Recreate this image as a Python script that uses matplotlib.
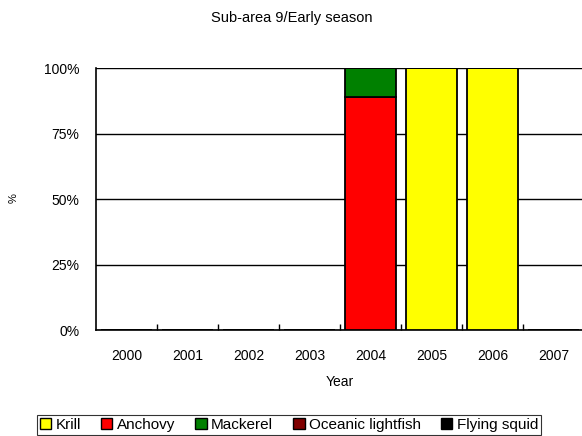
import numpy as np
import matplotlib
matplotlib.use('Agg')
import matplotlib.pyplot as plt
from matplotlib.ticker import FuncFormatter
from matplotlib.patches import Patch

plt.rcParams['font.family'] = ['Liberation Sans', 'DejaVu Sans']

years = ['2000', '2001', '2002', '2003', '2004', '2005', '2006', '2007']
species = ['Krill', 'Anchovy', 'Mackerel', 'Oceanic lightfish', 'Flying squid']
krill = [0, 0, 0, 0, 0, 100, 100, 0]
anchovy = [0, 0, 0, 0, 89, 0, 0, 0]
mackerel = [0, 0, 0, 0, 11, 0, 0, 0]
lightfish = [0, 0, 0, 0, 0, 0, 0, 0]
squid = [0, 0, 0, 0, 0, 0, 0, 0]
colors = ['#ffff00', '#ff0000', '#008000', '#800000', '#000000']

fig = plt.figure(figsize=(5.82, 4.36), dpi=100)
ax = fig.add_axes([96/582, 106/436, 488/582, 262/436])

x = np.arange(len(years))
bottom = np.zeros(len(years))
for vals, col in zip([krill, anchovy, mackerel, lightfish, squid], colors):
    v = np.array(vals, dtype=float)
    ax.bar(x, v, 0.85, bottom=bottom, color=col, edgecolor='black',
           linewidth=1.3, zorder=3)
    bottom += v

ax.set_xlim(-0.5, len(years) - 0.5)
ax.set_ylim(0, 100)
ax.set_yticks([0, 25, 50, 75, 100])
ax.yaxis.set_major_formatter(FuncFormatter(lambda v, p: '%d%%' % v))
ax.tick_params(axis='y', length=0, labelsize=10, pad=12)
ax.set_xticks(x)
ax.set_xticklabels(years)
ax.set_xticks(np.arange(len(years) - 1) + 0.5, minor=True)
ax.tick_params(axis='x', which='major', length=0, labelsize=10, pad=14)
ax.tick_params(axis='x', which='minor', length=4, direction='in', width=1)
ax.grid(axis='y', color='black', linewidth=1, zorder=0)
for s in ['top', 'right']:
    ax.spines[s].set_visible(False)
ax.spines['left'].set_linewidth(1.2)
ax.spines['bottom'].set_linewidth(1.2)

ax.set_xlabel('Year', fontsize=10, labelpad=8)
fig.text(14/582, 1 - 198/436, '%', rotation=90, fontsize=8, ha='center', va='center')
fig.text(292/582, 1 - 18/436, 'Sub-area 9/Early season', fontsize=10.5, ha='center', va='center')

handles = [Patch(facecolor=c, edgecolor='black', linewidth=1) for c in colors]
leg = fig.legend(handles, species, loc='center', bbox_to_anchor=(289/582, 1 - 425/436),
                 ncol=5, fontsize=11, frameon=True, fancybox=False, edgecolor='black',
                 handlelength=0.75, handleheight=0.75, handletextpad=0.3,
                 columnspacing=1.3, borderpad=0.2, borderaxespad=0)
leg.get_frame().set_linewidth(0.8)

plt.savefig('out.png', dpi=100)
